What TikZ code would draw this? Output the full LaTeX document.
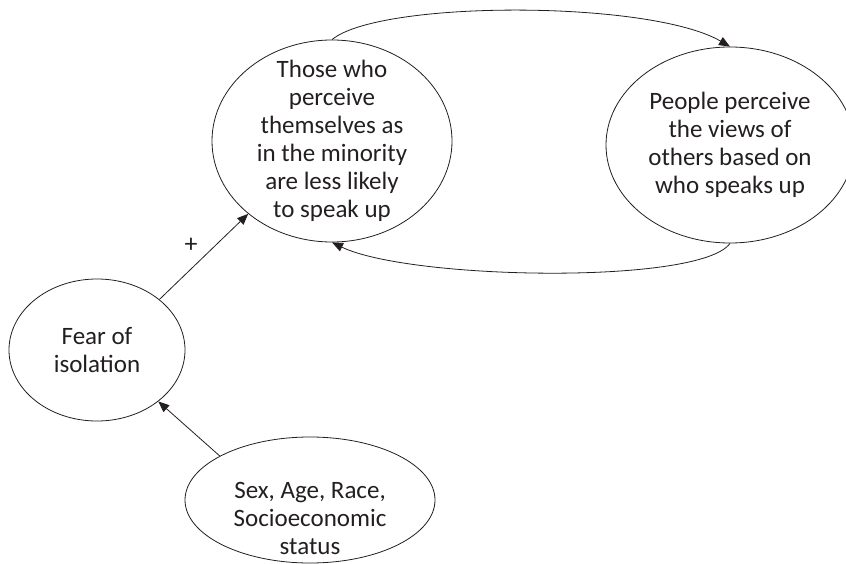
\documentclass[tikz,border=0pt]{standalone}
\usepackage{fontspec}
\setmainfont{Carlito}
\usetikzlibrary{arrows.meta,shapes.geometric}
\definecolor{ink}{RGB}{35,31,32}
\tikzset{
  oval/.style={draw=ink, ellipse, line width=0.8pt, inner sep=0pt},
  txt/.style={align=center, text=ink, inner sep=0pt, font=\fontsize{25}{28}\selectfont},
  arrow/.style={-{Triangle[length=11pt,width=9pt]}, line width=0.8pt, draw=ink}
}
\begin{document}
\begin{tikzpicture}[x=1pt,y=-1pt]
\useasboundingbox (0,0) rectangle (846,564);
\node[oval, minimum width=240pt, minimum height=202pt,
  label={[txt]center:{Those who\\perceive\\themselves as\\in the minority\\are less likely\\to speak up}}] (minority) at (332,141) {};
\node[oval, minimum width=248pt, minimum height=196pt,
  label={[txt]center:{People perceive\\the views of\\others based on\\who speaks up}}] (views) at (730,145) {};
\node[oval, minimum width=176pt, minimum height=142pt,
  label={[txt]center:{Fear of\\isolation}}] (fear) at (97,350) {};
\node[oval, minimum width=250pt, minimum height=126pt,
  label={[txt, yshift=-18pt]center:{Sex, Age, Race,\\Socioeconomic\\status}}] (demo) at (310,500) {};
\node[txt, font=\fontsize{26}{26}\selectfont] (plus) at (191,245) {+};
\draw[arrow] (fear.39) -- (minority.221);
\draw[arrow] (demo.154) -- (fear.320);
\draw[arrow] (minority.north) .. controls (380,0) and (650,0) .. (views.north);
\draw[arrow] (views.south) .. controls (700,285) and (410,280) .. (minority.south);
\end{tikzpicture}
\end{document}
